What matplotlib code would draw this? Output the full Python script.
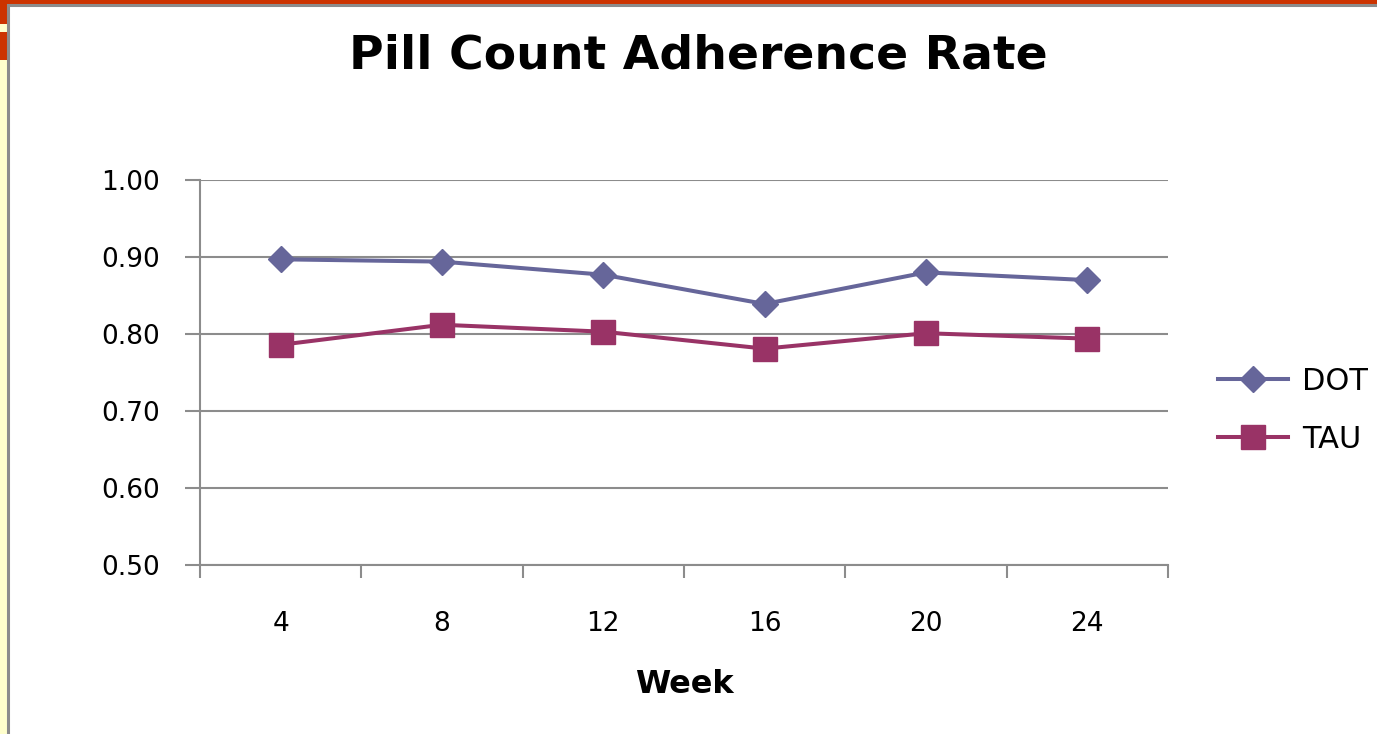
import numpy as np
import matplotlib.pyplot as plt
from matplotlib.patches import Rectangle

weeks = ['4', '8', '12', '16', '20', '24']
dot = [0.897, 0.894, 0.877, 0.839, 0.880, 0.870]
tau = [0.786, 0.812, 0.803, 0.781, 0.801, 0.794]

W, H = 1377, 734
fig = plt.figure(figsize=(W / 100, H / 100), dpi=100)
plt.rcParams['font.family'] = ['DejaVu Sans']


def px_rect(x0, y0, x1, y1, **kw):
    # rectangle given in pixel coords from top-left
    fig.patches.append(Rectangle((x0 / W, 1 - y1 / H), (x1 - x0) / W, (y1 - y0) / H,
                                 transform=fig.transFigure, zorder=-1, **kw))


# slide background bits around the chart box
red = '#CC3300'
yellow = '#FFFFCC'
px_rect(0, 0, W, 5, color=red, lw=0)
px_rect(0, 0, 8, H, color=yellow, lw=0)
px_rect(0, 0, 8, 24, color=red, lw=0)
px_rect(0, 32, 8, 60, color=red, lw=0)
px_rect(8, 5, W + 5, H + 5, facecolor='white', edgecolor='#8C8C8C', lw=2.2)

ax = fig.add_axes([200 / W, (H - 565) / H, 968 / W, 385 / H])
ax.set_facecolor('none')
x = np.arange(len(weeks))
ax.plot(x, dot, color='#66669A', lw=2.9, marker='D', ms=13, label='DOT', zorder=3)
ax.plot(x, tau, color='#993366', lw=2.9, marker='s', ms=17, label='TAU', zorder=3)

ax.set_xlim(-0.5, len(weeks) - 0.5)
ax.set_ylim(0.5, 1.0)
ax.set_yticks(np.arange(0.5, 1.001, 0.1))
ax.set_yticklabels([f'{v:.2f}' for v in np.arange(0.5, 1.001, 0.1)], fontsize=19)
ax.set_xticks(np.arange(-0.5, len(weeks)), labels=[''] * (len(weeks) + 1))
ax.set_xticks(x, labels=weeks, minor=True, fontsize=19)
ax.tick_params(axis='x', which='major', length=9, width=1.5, color='#8C8C8C', direction='out')
ax.tick_params(axis='x', which='minor', length=0, pad=33)
ax.tick_params(axis='y', length=11, width=1.5, color='#8C8C8C', pad=18)
ax.grid(axis='y', color='#8C8C8C', lw=1.5)
ax.set_axisbelow(True)
for s in ['top', 'right']:
    ax.spines[s].set_visible(False)
for s in ['left', 'bottom']:
    ax.spines[s].set_color('#8C8C8C')
    ax.spines[s].set_linewidth(1.5)

ax.set_xlabel('Week', fontsize=23, fontweight='bold', labelpad=23)
fig.text(698 / W, 1 - 56 / H, 'Pill Count Adherence Rate', fontsize=34,
         fontweight='bold', ha='center', va='center')

ax.legend(loc='center left', bbox_to_anchor=((1218 - 200) / 968, (565 - 410.5) / 385),
          frameon=False, fontsize=22, borderaxespad=0, borderpad=0,
          handlelength=2.3, labelspacing=0.95, handletextpad=0.45)

fig.savefig('out.png', dpi=100)
